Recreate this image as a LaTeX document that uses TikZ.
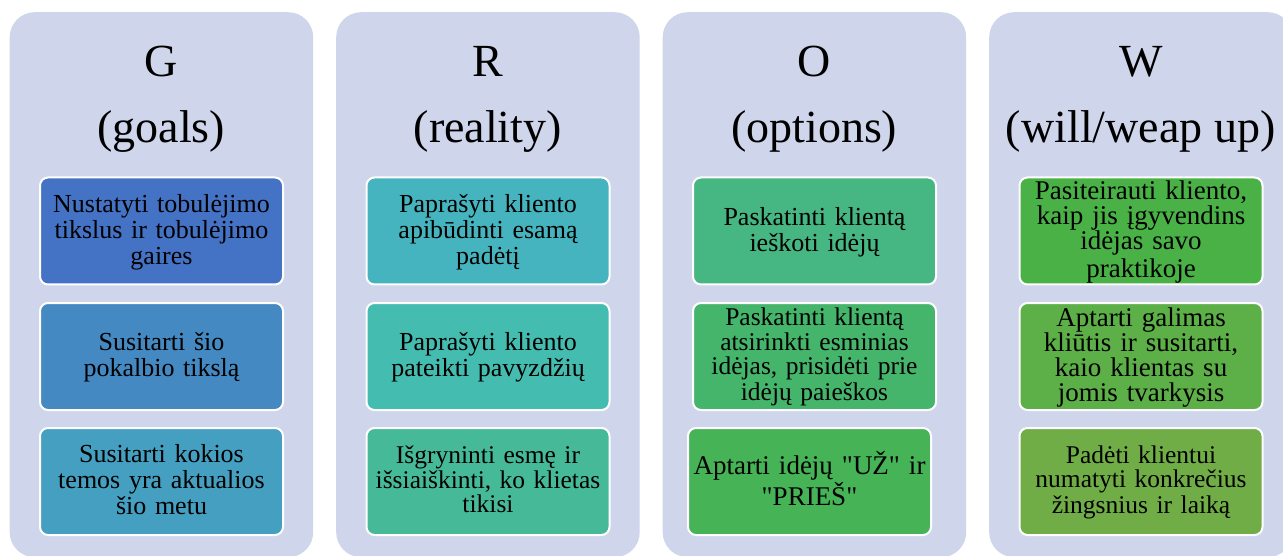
\documentclass[tikz,border=0pt]{standalone}
\usepackage{fontspec}
% plain character mapping, so that " stays a straight double quote
\setmainfont{Liberation Serif}[Ligatures=TeXOff]

% Fill colours of the twelve step boxes: a hue sweep from blue to green
\definecolor{panelbg}{HTML}{CFD5EA}
\definecolor{c0}{RGB}{68,114,196}
\definecolor{c1}{RGB}{68,137,194}
\definecolor{c2}{RGB}{69,159,192}
\definecolor{c3}{RGB}{69,180,190}
\definecolor{c4}{RGB}{69,188,176}
\definecolor{c5}{RGB}{70,186,152}
\definecolor{c6}{RGB}{70,183,130}
\definecolor{c7}{RGB}{70,181,108}
\definecolor{c8}{RGB}{70,179,87}
\definecolor{c9}{RGB}{74,177,71}
\definecolor{c10}{RGB}{93,175,71}
\definecolor{c11}{RGB}{112,173,71}

% line box used at both ends of a box text, so the block centres on its lines
\newcommand{\boxstrut}{\rule[-0.23em]{0pt}{1em}}

\begin{document}
\begin{tikzpicture}[x=1pt,y=-1pt,
  panel/.style={fill=panelbg, rounded corners=25pt, minimum width=303.5pt,
    minimum height=545pt, inner sep=0pt, anchor=north west},
  letter/.style={anchor=base, inner sep=0pt, font=\fontsize{46}{50}\selectfont},
  item/.style={draw=white, line width=2pt, rounded corners=8pt,
    minimum width=243pt, minimum height=107pt, inner sep=0pt,
    align=center, text width=240pt, font=\fontsize{26}{26}\selectfont,
    execute at begin node=\boxstrut, execute at end node=\boxstrut},
  small/.style={font=\fontsize{25.5}{24.5}\selectfont},
  tight/.style={font=\fontsize{27}{25}\selectfont},
  large/.style={font=\fontsize{27}{27}\selectfont}]

\useasboundingbox (0,0) rectangle (1283,556);
\clip (0,0) rectangle (1283,556);

% background panels
\node[panel] (pG) at (9.5,12) {};
\node[panel] (pR) at (336,12) {};
\node[panel] (pO) at (662.5,12) {};
\node[panel] (pW) at (989,12) {};

% headings
\node[letter] (hG) at (161.25,77) {G};
\node[letter] (sG) at (161.25,143) {(goals)};
\node[letter] (hR) at (487.75,77) {R};
\node[letter] (sR) at (487.75,143) {(reality)};
\node[letter] (hO) at (814.25,77) {O};
\node[letter] (sO) at (814.25,143) {(options)};
\node[letter] (hW) at (1140.75,77) {W};
\node[letter] (sW) at (1140.75,143) {(will/weap up)};

% G column
\node[item, fill=c0] (g1) at (161.5,231) {Nustatyti tobulėjimo\\tikslus ir tobulėjimo\\gaires};
\node[item, fill=c1] (g2) at (161.5,356.5) {Susitarti šio\\pokalbio tikslą};
\node[item, fill=c2] (g3) at (161.5,481.5) {Susitarti kokios\\temos yra aktualios\\šio metu};

% R column
\node[item, fill=c3] (r1) at (488,231) {Paprašyti kliento\\apibūdinti esamą\\padėtį};
\node[item, fill=c4] (r2) at (488,356.5) {Paprašyti kliento\\pateikti pavyzdžių};
\node[item, small, fill=c5] (r3) at (488,481.5) {Išgryninti esmę ir\\išsiaiškinti, ko klietas\\tikisi};

% O column
\node[item, fill=c6] (o1) at (814.5,231) {Paskatinti klientą\\ieškoti idėjų};
\node[item, small, fill=c7] (o2) at (814.5,356.5) {Paskatinti klientą\\atsirinkti esminias\\idėjas, prisidėti prie\\idėjų paieškos};
\node[item, large, fill=c8] (o3) at (809.5,481.5) {Aptarti idėjų "UŽ" ir\\"PRIEŠ"};

% W column
\node[item, tight, fill=c9] (w1) at (1141,231) {Pasiteirauti kliento,\\kaip jis įgyvendins\\idėjas savo\\praktikoje};
\node[item, tight, fill=c10] (w2) at (1141,356.5) {Aptarti galimas\\kliūtis ir susitarti,\\kaio klientas su\\jomis tvarkysis};
\node[item, small, fill=c11] (w3) at (1141,481.5) {Padėti klientui\\numatyti konkrečius\\žingsnius ir laiką};
\end{tikzpicture}
\end{document}
